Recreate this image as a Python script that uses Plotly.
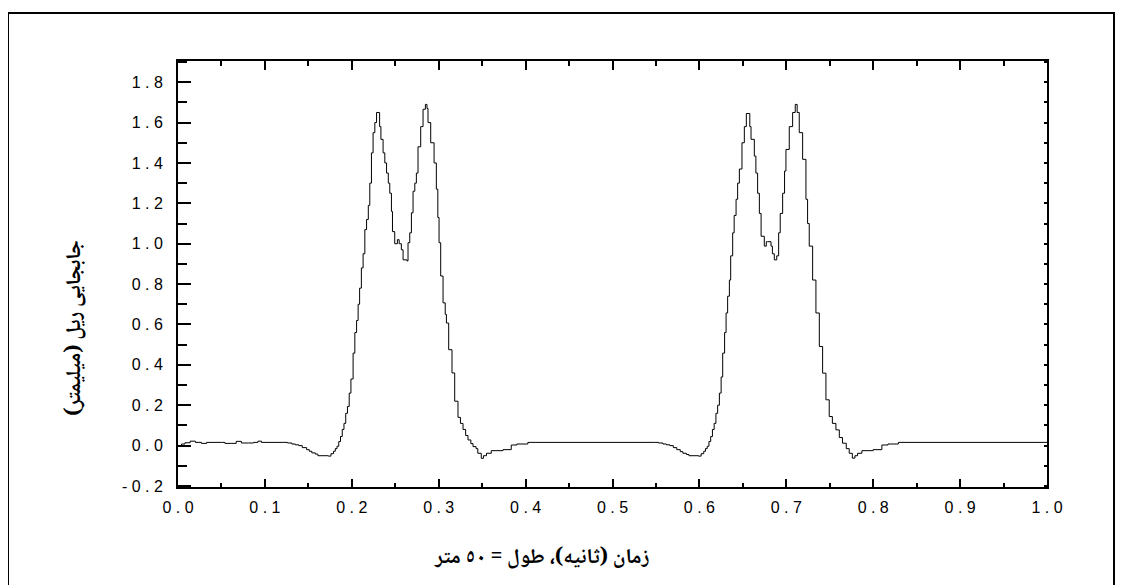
import plotly.graph_objects as go

# ---- data (time in s, rail displacement in mm) ----
time_s = [
    0.000, 0.004, 0.008, 0.014, 0.020, 0.027, 0.033, 0.050, 0.054, 0.062,
    0.067, 0.073, 0.081, 0.087, 0.092, 0.096, 0.121, 0.126, 0.131, 0.135,
    0.139, 0.143, 0.148, 0.151, 0.154, 0.158, 0.161, 0.173, 0.176, 0.179,
    0.181, 0.183, 0.185, 0.187, 0.189, 0.191, 0.193, 0.195, 0.197, 0.199,
    0.2015, 0.2035, 0.2055, 0.2073, 0.209, 0.211, 0.213, 0.215, 0.217, 0.219,
    0.2207, 0.2226, 0.2245, 0.2265, 0.2285, 0.2315, 0.232, 0.2335, 0.236, 0.238,
    0.240, 0.242, 0.2437, 0.2456, 0.2468, 0.2494, 0.2525, 0.2545, 0.257, 0.259,
    0.2635, 0.2647, 0.2667, 0.2686, 0.2705, 0.2725, 0.2743, 0.2762, 0.2793, 0.282,
    0.2847, 0.2865, 0.2877, 0.2908, 0.2947, 0.2973, 0.299, 0.3004, 0.3023, 0.305,
    0.3075, 0.3089, 0.3115, 0.3153, 0.3184, 0.3222, 0.325, 0.328, 0.331, 0.3337,
    0.337, 0.3395, 0.343, 0.345, 0.349, 0.3515, 0.355, 0.3605, 0.374, 0.3835,
    0.390, 0.4026,
    0.548, 0.553, 0.558, 0.562, 0.566, 0.570, 0.574, 0.578, 0.581, 0.585,
    0.588, 0.599, 0.602, 0.605, 0.607, 0.609, 0.611, 0.613, 0.615, 0.617,
    0.619, 0.621, 0.623, 0.625, 0.6268, 0.629, 0.6307, 0.6325, 0.6345, 0.636,
    0.6383, 0.640, 0.6422, 0.644, 0.646, 0.649, 0.6517, 0.654, 0.657, 0.658,
    0.6594, 0.6632, 0.665, 0.667, 0.669, 0.671, 0.6747, 0.677, 0.6785, 0.6824,
    0.684, 0.6862, 0.689, 0.6912, 0.693, 0.6958, 0.698, 0.6996, 0.7034, 0.7073,
    0.7103, 0.7125, 0.7149, 0.7188, 0.7226, 0.7245, 0.7264, 0.7303, 0.7341, 0.738,
    0.7418, 0.7456, 0.7494, 0.753, 0.7571, 0.761, 0.7647, 0.769, 0.7724, 0.776,
    0.779, 0.782, 0.787, 0.800, 0.810, 0.817, 0.829, 1.000,
]
displacement_mm = [
    0.000, 0.008, 0.014, 0.022, 0.016, 0.011, 0.016, 0.016, 0.011, 0.011,
    0.021, 0.013, 0.013, 0.016, 0.022, 0.016, 0.016, 0.013, 0.008, 0.004,
    0.000, -0.010, -0.020, -0.028, -0.036, -0.042, -0.050, -0.052, -0.040, -0.028,
    -0.015, -0.003, 0.020, 0.045, 0.080, 0.110, 0.160, 0.194, 0.260, 0.330,
    0.458, 0.560, 0.620, 0.700, 0.780, 0.880, 0.950, 1.070, 1.120, 1.190,
    1.300, 1.450, 1.550, 1.600, 1.650, 1.650, 1.580, 1.517, 1.450, 1.400,
    1.350, 1.300, 1.250, 1.160, 1.060, 1.000, 1.020, 1.000, 0.970, 0.920,
    0.915, 1.005, 1.054, 1.153, 1.260, 1.300, 1.350, 1.480, 1.580, 1.666,
    1.690, 1.670, 1.600, 1.500, 1.400, 1.270, 1.130, 1.005, 0.840, 0.707,
    0.650, 0.607, 0.475, 0.360, 0.220, 0.140, 0.110, 0.080, 0.050, 0.028,
    0.010, -0.005, -0.015, -0.038, -0.063, -0.050, -0.038, -0.025, -0.020, 0.003,
    0.008, 0.016,
    0.016, 0.013, 0.008, 0.004, 0.000, -0.010, -0.020, -0.030, -0.038, -0.044,
    -0.050, -0.052, -0.040, -0.028, -0.015, -0.003, 0.020, 0.045, 0.080, 0.110,
    0.160, 0.200, 0.260, 0.340, 0.458, 0.560, 0.657, 0.740, 0.820, 0.940,
    1.054, 1.140, 1.220, 1.300, 1.370, 1.500, 1.580, 1.645, 1.645, 1.580,
    1.517, 1.434, 1.350, 1.250, 1.150, 1.037, 0.988, 1.010, 1.010, 0.988,
    0.950, 0.920, 0.940, 1.054, 1.150, 1.250, 1.360, 1.467, 1.580, 1.650,
    1.690, 1.650, 1.550, 1.418, 1.220, 1.100, 0.988, 0.820, 0.657, 0.491,
    0.359, 0.227, 0.144, 0.110, 0.078, 0.040, 0.012, -0.015, -0.038, -0.062,
    -0.050, -0.038, -0.025, -0.020, 0.003, 0.008, 0.016, 0.016,
]

x_tick_vals = [0.0, 0.1, 0.2, 0.3, 0.4, 0.5, 0.6, 0.7, 0.8, 0.9, 1.0]
x_tick_text = ["0 . 0", "0 . 1", "0 . 2", "0 . 3", "0 . 4", "0 . 5",
               "0 . 6", "0 . 7", "0 . 8", "0 . 9", "1 . 0"]
y_tick_vals = [-0.2, 0.0, 0.2, 0.4, 0.6, 0.8, 1.0, 1.2, 1.4, 1.6, 1.8]
y_tick_text = ["- 0 . 2", "0 . 0", "0 . 2", "0 . 4", "0 . 6", "0 . 8",
               "1 . 0", "1 . 2", "1 . 4", "1 . 6", "1 . 8"]

x_title = "زمان (ثانیه)، طول = ٥٠ متر"
y_title = "جابجایی ریل (میلیمتر)"

X_RANGE = [0.0, 1.0]
Y_RANGE = [-0.205, 1.905]

# the page body adds an 8 px offset, compensated in the margins
PLOT_L, PLOT_T, PLOT_W, PLOT_H = 170, 53, 869, 426

fig = go.Figure()
fig.add_trace(go.Scatter(
    x=time_s, y=displacement_mm, mode="lines",
    line=dict(color="black", width=1, shape="hv"),
    showlegend=False, hoverinfo="skip",
))
# dummy trace to activate the mirrored top/right axes
fig.add_trace(go.Scatter(x=[None], y=[None], xaxis="x2", yaxis="y2",
                         showlegend=False, hoverinfo="skip"))

tick_font = dict(family="Liberation Sans, Arial, sans-serif", size=16, color="black")
ar_font = dict(family="Noto Naskh Arabic, Noto Sans Arabic, DejaVu Sans", size=21, color="black")

fig.update_layout(
    width=1123, height=585,
    paper_bgcolor="white", plot_bgcolor="white",
    margin=dict(l=PLOT_L, r=1123 - PLOT_L - PLOT_W, t=PLOT_T, b=585 - PLOT_T - PLOT_H, pad=0),
    xaxis=dict(
        range=X_RANGE, tickvals=x_tick_vals, ticktext=x_tick_text,
        ticks="inside", ticklen=8, tickwidth=2, tickcolor="black",
        minor=dict(ticks="inside", ticklen=4, tickwidth=2, tickcolor="black", dtick=0.05),
        showline=True, linecolor="black", linewidth=2,
        showgrid=False, zeroline=False, tickfont=tick_font,
        ticklabelstandoff=5,
    ),
    yaxis=dict(
        range=Y_RANGE, tickvals=y_tick_vals, ticktext=y_tick_text,
        ticks="inside", ticklen=13, tickwidth=2, tickcolor="black",
        minor=dict(ticks="inside", ticklen=9, tickwidth=2, tickcolor="black", dtick=0.1, tick0=0),
        showline=True, linecolor="black", linewidth=2,
        showgrid=False, zeroline=False, tickfont=tick_font,
        ticklabelstandoff=10,
    ),
    xaxis2=dict(
        range=X_RANGE, overlaying="x", side="top", anchor="y",
        tickvals=x_tick_vals, showticklabels=False,
        ticks="inside", ticklen=9, tickwidth=2, tickcolor="black",
        minor=dict(ticks="inside", ticklen=5, tickwidth=2, tickcolor="black", dtick=0.05),
        showline=True, linecolor="black", linewidth=2,
        showgrid=False, zeroline=False,
    ),
    yaxis2=dict(
        range=Y_RANGE, overlaying="y", side="right", anchor="x",
        dtick=0.1, tick0=0, showticklabels=False,
        ticks="inside", ticklen=3, tickwidth=2, tickcolor="black",
        showline=True, linecolor="black", linewidth=2,
        showgrid=False, zeroline=False,
    ),
)

# target pixel positions in the window, converted to paper units
def px_x(px):
    return (px - 8 - PLOT_L) / PLOT_W

def px_y(py):
    return (PLOT_T + PLOT_H - (py - 8)) / PLOT_H

# outer frame
fig.add_shape(type="rect", xref="paper", yref="paper",
              x0=px_x(8), x1=px_x(1114), y0=px_y(610), y1=px_y(13),
              line=dict(color="black", width=2), layer="below")

fig.add_annotation(text="<b>" + x_title + "</b>", xref="paper", yref="paper",
                   x=px_x(541), y=px_y(558),
                   showarrow=False, font=ar_font, xanchor="center", yanchor="middle")
fig.add_annotation(text="<b>" + y_title + "</b>", xref="paper", yref="paper",
                   x=px_x(75), y=px_y(328), textangle=-90,
                   showarrow=False, font=ar_font, xanchor="center", yanchor="middle")

fig.write_html("out.html")
